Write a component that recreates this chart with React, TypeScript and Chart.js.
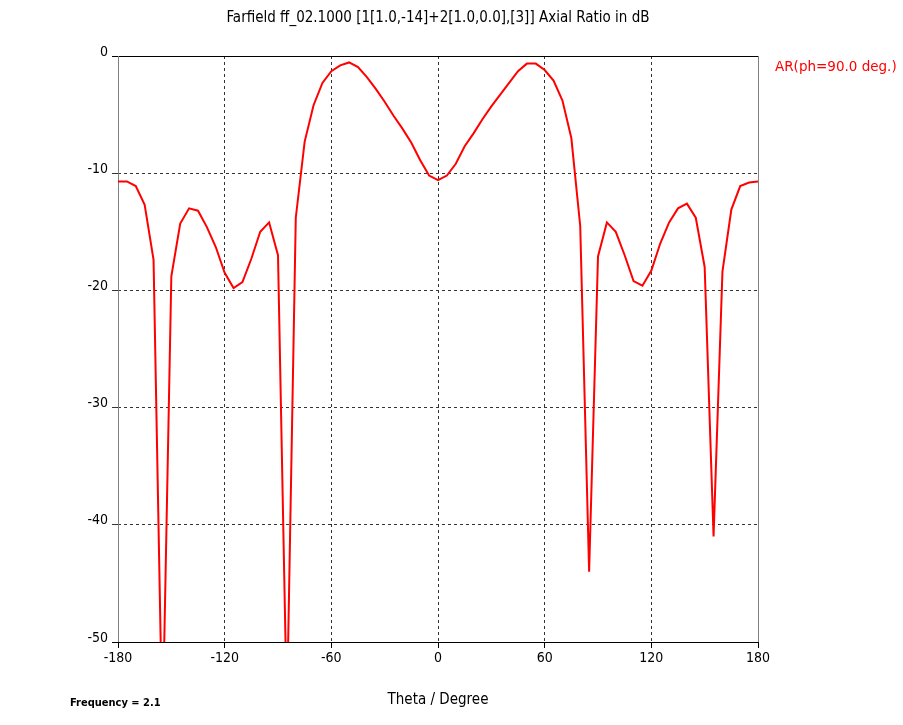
import React, { useEffect, useRef } from "react";
import { Chart, registerables } from "chart.js";

Chart.register(...registerables);

const thetaDeg: number[] = [
  -180, -175, -170, -165, -160, -155, -150, -145, -140, -135, -130, -125, -120, -115, -110, -105,
  -100, -95, -90, -85, -80, -75, -70, -65, -60, -55, -50, -45, -40, -35, -30, -25, -20, -15, -10,
  -5, 0, 5, 10, 15, 20, 25, 30, 35, 40, 45, 50, 55, 60, 65, 70, 75, 80, 85, 90, 95, 100, 105, 110,
  115, 120, 125, 130, 135, 140, 145, 150, 155, 160, 165, 170, 175, 180,
];

const axialRatioDb: number[] = [
  -10.7, -10.7, -11.1, -12.7, -17.4, -58.0, -18.8, -14.3, -13.0, -13.2, -14.6, -16.3, -18.5, -19.8,
  -19.3, -17.3, -15.0, -14.2, -17.0, -56.0, -13.8, -7.3, -4.2, -2.3, -1.3, -0.8, -0.55, -0.95, -1.8,
  -2.8, -3.9, -5.1, -6.2, -7.4, -8.9, -10.2, -10.6, -10.2, -9.2, -7.7, -6.6, -5.4, -4.3, -3.3, -2.3,
  -1.3, -0.65, -0.65, -1.2, -2.1, -3.8, -7.0, -14.5, -44.0, -17.1, -14.2, -15.0, -17.0, -19.2, -19.6,
  -18.3, -16.0, -14.2, -13.0, -12.6, -13.8, -18.0, -41.0, -18.4, -13.1, -11.1, -10.8, -10.7,
];

const xTickStep = 60;
const yTickStep = 10;
const xMin = -180;
const xMax = 180;
const yMin = -50;
const yMax = 0;

const titleText = "Farfield ff_02.1000 [1[1.0,-14]+2[1.0,0.0],[3]] Axial Ratio in dB";
const legendText = "AR(ph=90.0 deg.)";
const xAxisTitle = "Theta / Degree";
const footnoteText = "Frequency = 2.1";

const NARROW = "'Liberation Sans Narrow', 'DejaVu Sans Condensed', 'Arial Narrow', sans-serif";
const TAHOMA = "'DejaVu Sans', Verdana, sans-serif";

export default function App() {
  const canvasRef = useRef<HTMLCanvasElement | null>(null);

  useEffect(() => {
    const canvas = canvasRef.current;
    if (!canvas) return;

    const points = thetaDeg.map((t, i) => ({ x: t, y: axialRatioDb[i] }));

    const decor = {
      id: "decor",
      beforeDatasetsDraw(chart: any) {
        const { ctx, chartArea } = chart;
        const { left, right, top, bottom } = chartArea;
        ctx.save();
        ctx.setLineDash([]);
        ctx.lineWidth = 1;
        ctx.strokeStyle = "#000";
        ctx.beginPath();
        ctx.moveTo(left - 6, Math.round(top) + 0.5);
        ctx.lineTo(right, Math.round(top) + 0.5);
        ctx.moveTo(left - 6, Math.round(bottom) + 0.5);
        ctx.lineTo(right, Math.round(bottom) + 0.5);
        ctx.stroke();
        ctx.strokeStyle = "#808080";
        ctx.beginPath();
        ctx.moveTo(Math.round(left) + 0.5, top);
        ctx.lineTo(Math.round(left) + 0.5, bottom);
        ctx.moveTo(Math.round(right) + 0.5, top);
        ctx.lineTo(Math.round(right) + 0.5, bottom);
        ctx.stroke();
        ctx.restore();
      },
      afterDraw(chart: any) {
        const { ctx } = chart;
        ctx.save();
        ctx.textBaseline = "middle";
        ctx.fillStyle = "#000";
        ctx.textAlign = "center";
        ctx.font = `15px ${NARROW}`;
        ctx.fillText(titleText, 438, 18);
        ctx.font = `15px ${NARROW}`;
        ctx.fillText(xAxisTitle, 438, 700);
        ctx.textAlign = "left";
        ctx.font = `bold 11px ${NARROW}`;
        ctx.fillText(footnoteText, 70, 703);
        ctx.fillStyle = "#ff0000";
        ctx.font = `13.5px ${TAHOMA}`;
        ctx.fillText(legendText, 775, 67);
        ctx.restore();
      },
    };

    const chart = new Chart(canvas, {
      type: "line",
      data: {
        datasets: [
          {
            label: legendText,
            data: points,
            borderColor: "#ff0000",
            backgroundColor: "#ff0000",
            borderWidth: 2,
            pointRadius: 0,
            tension: 0,
            fill: false,
          },
        ],
      },
      plugins: [decor],
      options: {
        animation: false,
        responsive: false,
        maintainAspectRatio: false,
        events: [],
        layout: { padding: { top: 56, right: 145, left: 0, bottom: 0 } },
        plugins: {
          legend: { display: false },
          tooltip: { enabled: false },
          title: { display: false },
        },
        scales: {
          x: {
            type: "linear",
            min: xMin,
            max: xMax,
            ticks: {
              stepSize: xTickStep,
              color: "#000",
              font: { family: NARROW, size: 14 },
              padding: 2,
              maxRotation: 0,
            },
            grid: {
              color: "#333",
              lineWidth: 1,
              tickLength: 6,
              drawTicks: true,
              tickColor: "#000",
            },
            border: { display: false, dash: [3, 3] },
            afterFit: (s: any) => {
              s.height = 83;
            },
          },
          y: {
            type: "linear",
            min: yMin,
            max: yMax,
            ticks: {
              stepSize: yTickStep,
              color: "#000",
              font: { family: NARROW, size: 14 },
              padding: 4,
              labelOffset: -4,
            },
            grid: {
              color: "#333",
              lineWidth: 1,
              tickLength: 6,
              drawTicks: true,
            },
            border: { display: false, dash: [3, 3] },
            afterFit: (s: any) => {
              s.width = 118;
            },
          },
        },
      },
    });

    return () => {
      chart.destroy();
    };
  }, []);

  return (
    <div style={{ position: "absolute", left: 0, top: 0, width: 903, height: 725, background: "#fff" }}>
      <canvas ref={canvasRef} width={903} height={725} style={{ width: 903, height: 725, display: "block" }} />
    </div>
  );
}
